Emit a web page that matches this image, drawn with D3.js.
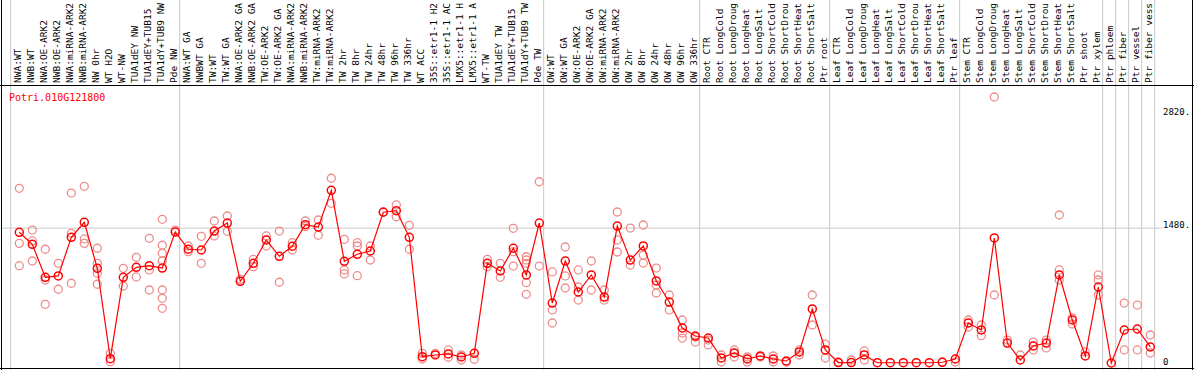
<!DOCTYPE html>
<html>
<head>
<meta charset="utf-8">
<script src="https://cdn.jsdelivr.net/npm/d3@7"></script>
<style>
  body { margin: 0; background: #fff; }
  svg text { font-family: "DejaVu Sans Mono", monospace; }
</style>
</head>
<body>
<div id="chart"></div>
<script>
var title = "Potri.010G121800"

// sample names as far as the header shows them (14 characters)
var samples = [
  "NWA:WT", "NWB:WT", "NWA:OE-ARK2", "NWB:OE-ARK2", "NWA:miRNA-ARK2", "NWB:miRNA-ARK2",
  "NW 0hr", "WT H2O", "WT-NW", "TUA1dEY NW", "TUA1dEY+TUB15", "TUA1dY+TUB9 NW", "Pde NW",
  "NWA:WT GA", "NWBWT GA", "TW:WT", "TW:WT GA", "NWA:OE-ARK2 GA", "NWB:OE-ARK2 GA",
  "TW:OE-ARK2", "TW:OE-ARK2 GA", "NWA:miRNA-ARK2", "NWB:miRNA-ARK2", "TW:miRNA-ARK2",
  "TW:miRNA-ARK2 ", "TW 2hr", "TW 8hr", "TW 24hr", "TW 48hr", "TW 96hr", "TW 336hr", "WT ACC",
  "35S::etr1-1 H2", "35S::etr1-1 AC", "LMX5::etr1-1 H", "LMX5::etr1-1 A", "WT-TW",
  "TUA1dEY TW", "TUA1dEY+TUB15 ", "TUA1dY+TUB9 TW", "Pde TW",
  "OW:WT", "OW:WT GA", "OW:OE-ARK2", "OW:OE-ARK2 GA", "OW:miRNA-ARK2", "OW:miRNA-ARK2 ",
  "OW 2hr", "OW 8hr", "OW 24hr", "OW 48hr", "OW 96hr", "OW 336hr",
  "Root CTR", "Root LongCold", "Root LongDroug", "Root LongHeat", "Root LongSalt",
  "Root ShortCold", "Root ShortDrou", "Root ShortHeat", "Root ShortSalt", "Ptr root",
  "Leaf CTR", "Leaf LongCold", "Leaf LongDroug", "Leaf LongHeat", "Leaf LongSalt",
  "Leaf ShortCold", "Leaf ShortDrou", "Leaf ShortHeat", "Leaf ShortSalt", "Ptr leaf",
  "Stem CTR", "Stem LongCold", "Stem LongDroug", "Stem LongHeat", "Stem LongSalt",
  "Stem ShortCold", "Stem ShortDrou", "Stem ShortHeat", "Stem ShortSalt", "Ptr shoot",
  "Ptr xylem", "Ptr phloem", "Ptr fiber", "Ptr vessel", "Ptr fiber vess"
]

// mean expression per sample
var means = [
  1434, 1302, 940, 955, 1379, 1544, 1039, 47, 940, 1050, 1068, 1042, 1437,
  1248, 1240, 1448, 1536, 896, 1094, 1350, 1171, 1281, 1518, 1492, 1895, 1116,
  1193, 1229, 1654, 1671, 1379, 69, 88, 99, 66, 106, 1094, 1010, 1259, 966, 1536,
  658, 1119, 779, 966, 724, 1503, 1130, 1284, 900, 669, 384, 296,
  274, 55, 110, 44, 77, 44, 22, 121, 593, 143,
  5, 5, 88, 3, 3, 3, 3, 3, 8, 44,
  439, 362, 1372, 219, 33, 187, 219, 966, 472, 77,
  834, 0, 362, 373, 176
]

// individual replicates per sample
var replicates = [
  [1917, 1313, 1068], [1459, 1339, 1119], [1248, 911, 644], [1094, 809], [1865, 1423, 875],
  [1939, 1361, 1313], [1259, 1094, 984, 864], [106, 14], [1039, 845], [1160, 944],
  [1368, 1021, 801], [1577, 1292, 1204, 1119, 801, 710, 600], [1459],
  [1284, 1221], [1390, 1094], [1558, 1394], [1613, 1445], [918], [1138, 1057],
  [1394, 1284], [1448, 886], [1320, 1240], [1558, 1496], [1569, 1401], [2027, 1752],
  [1357, 1021, 977], [1320, 1284, 958], [1284, 1130], [1660], [1734, 1605], [1511, 1248],
  [106, 44], [106], [143, 63], [88, 33], [41], [1138, 1057], [1094, 940],
  [1478, 1221, 1064], [1166, 1130, 1094, 881, 754], [1989, 1064],
  [999, 582, 439], [1273, 955, 823], [1021, 834, 691], [1119, 801], [801, 691],
  [1657, 1350, 1218], [1481, 1075], [1514, 1185, 1097], [1042, 856, 768], [746, 582],
  [472, 329, 274], [285, 230],
  [252, 198], [88, 11], [143, 66], [66, 11], [66], [77, 11], [11], [143, 88], [746, 417], [208, 55],
  [11], [33], [132, 33], [], [], [], [], [], [11], [11],
  [472, 395], [417, 300], [2919, 746], [252], [88], [230, 143], [252, 165],
  [1624, 1021, 911], [494, 428], [121],
  [966, 911, 746], [], [658, 143], [636, 143], [307, 110]
]

var yTicks = [2820, 1480, 0]

// group separators sit after these sample indexes
var separatorsAfter = [-1, 12, 40, 52, 62, 72, 83, 84, 85, 86, 87]

var W = 1194, H = 370
var headerBottom = 85
var step = 13

var svg = d3.select("#chart")
  .append("svg")
    .attr("width", W)
    .attr("height", H)

var x = d3.scaleBand()
  .domain(d3.range(samples.length))
  .range([10.7, 10.7 + step * samples.length])

var y = d3.scaleLinear()
  .domain([0, 2820])
  .range([363, 106])

var cx = function(i) { return x(i) + 8.6 }
var sepX = function(d) { return x.range()[0] + (d + 1) * x.step() }

// horizontal grid line at the middle tick
svg.append("line")
  .attr("x1", 2).attr("x2", 1162)
  .attr("y1", y(1480)).attr("y2", y(1480))
  .attr("stroke", "#c8c8c8")

// vertical group separators
svg.append("g")
  .selectAll("line")
  .data(separatorsAfter)
  .enter()
  .append("line")
    .attr("x1", sepX)
    .attr("x2", sepX)
    .attr("y1", 0).attr("y2", H)
    .attr("stroke", "#c8c8c8")

// frame lines
svg.append("line").attr("x1", 0).attr("x2", W).attr("y1", headerBottom + 0.5).attr("y2", headerBottom + 0.5).attr("stroke", "#000")
svg.append("line").attr("x1", 1.5).attr("x2", 1.5).attr("y1", 0).attr("y2", H).attr("stroke", "#000")
svg.append("line").attr("x1", W - 1.5).attr("x2", W - 1.5).attr("y1", 0).attr("y2", H).attr("stroke", "#000")
svg.append("line").attr("x1", 0).attr("x2", W).attr("y1", H - 1.5).attr("y2", H - 1.5).attr("stroke", "#000")

// sample names, rotated
svg.append("g")
  .selectAll("text")
  .data(samples)
  .enter()
  .append("text")
    .attr("transform", function(d, i) { return "translate(" + (cx(i) + 1.8) + "," + (headerBottom - 2) + ") rotate(-90)" })
    .style("font-size", "9.5px")
    .style("fill", "#000")
    .text(function(d) { return d })

// gene title
svg.append("text")
  .attr("x", 9)
  .attr("y", 101)
  .style("font-size", "10px")
  .style("fill", "red")
  .text(title)

// right hand value labels
svg.append("g")
  .selectAll("text")
  .data(yTicks)
  .enter()
  .append("text")
    .attr("x", 1163)
    .attr("y", function(d, i) { return y(d) + [9, 0, 2][i] })
    .style("font-size", "9px")
    .style("fill", "#000")
    .text(function(d) { return d === 0 ? "0" : d + "." })

// replicate points
var reps = []
replicates.forEach(function(list, i) {
  list.forEach(function(v) { reps.push({ i: i, v: v }) })
})

svg.append("g")
  .selectAll("circle")
  .data(reps)
  .enter()
  .append("circle")
    .attr("cx", function(d) { return cx(d.i) })
    .attr("cy", function(d) { return y(d.v) })
    .attr("r", 4)
    .attr("fill", "none")
    .attr("stroke", "#ee8c8c")
    .attr("stroke-width", 1.3)

// mean line
var line = d3.line()
  .x(function(d, i) { return cx(i) })
  .y(function(d) { return y(d) })

svg.append("path")
  .datum(means)
  .attr("d", line)
  .attr("fill", "none")
  .attr("stroke", "red")
  .attr("stroke-width", 1.2)

svg.append("g")
  .selectAll("circle")
  .data(means)
  .enter()
  .append("circle")
    .attr("cx", function(d, i) { return cx(i) })
    .attr("cy", function(d) { return y(d) })
    .attr("r", 4)
    .attr("fill", "none")
    .attr("stroke", "red")
    .attr("stroke-width", 1.5)
</script>
</body>
</html>
